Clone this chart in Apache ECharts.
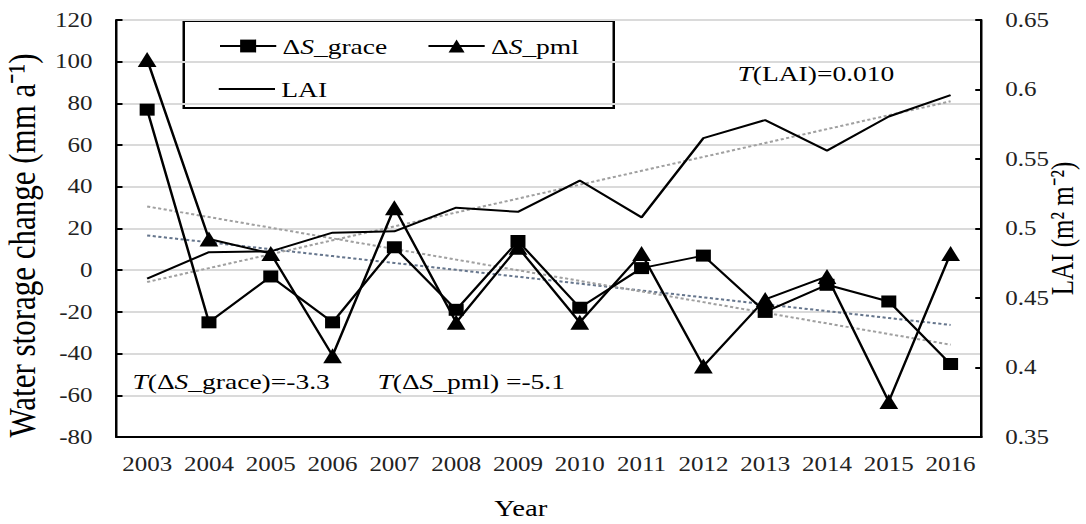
<!DOCTYPE html>
<html>
<head>
<meta charset="utf-8">
<script src="https://cdn.jsdelivr.net/npm/echarts@6/dist/echarts.min.js"></script>
<style>
  html, body { margin: 0; padding: 0; background: #fff; overflow: hidden; }
  /* the figure is laid out narrow and widened horizontally */
  #chart { width: 868.8px; height: 524px; transform: scaleX(1.25); transform-origin: 0 0; }
</style>
</head>
<body>
<div id="chart"></div>
<script>
const years = ['2003', '2004', '2005', '2006', '2007', '2008', '2009',
               '2010', '2011', '2012', '2013', '2014', '2015', '2016'];
// annual water storage change, mm a-1
const graceValues = [77, -25, -3, -25, 11, -19, 14, -18, 1, 7, -20, -7, -15, -45];
const pmlValues = [101, 15, 8, -41, 30, -25, 11, -25, 8, -46, -14, -3, -63, 8];
// leaf area index, m2 m-2
const laiValues = [0.464, 0.483, 0.4835, 0.497, 0.498, 0.515, 0.512,
                   0.5345, 0.508, 0.565, 0.578, 0.556, 0.5806, 0.596];
// linear trends per year
const graceSlope = -3.3;
const pmlSlope = -5.1;
const laiSlope = 0.010;

// straight trend line through the series mean with the given slope
function trendLine(values, slope) {
  const n = values.length;
  const mean = values.reduce((a, b) => a + b, 0) / n;
  const mid = (n - 1) / 2;
  return values.map((_, i) => +(mean + slope * (i - mid)).toFixed(4));
}

const FONT = "'Liberation Serif', 'Times New Roman', serif";
const rich = {
  n: { fontFamily: FONT, fontSize: 22, color: '#000' },
  i: { fontFamily: FONT, fontSize: 22, color: '#000', fontStyle: 'italic' }
};

const chart = echarts.init(document.getElementById('chart'), null, { renderer: 'svg' });

const legendText = { fontFamily: FONT, fontSize: 22, color: '#000', rich: rich };
const legendFormatter = name => name === 'LAI' ? '{n|LAI}'
  : '{n|Δ}{i|S}{n|' + name.slice(2) + '}';

chart.setOption({
  animation: false,
  backgroundColor: '#fff',
  grid: { left: 93, right: 83.8, top: 20, bottom: 87, outerBoundsMode: 'none' },
  legend: [
    {
      data: ['ΔS_grace', 'ΔS_pml'], left: 170, top: 30,
      itemWidth: 45, itemHeight: 16, itemGap: 32,
      textStyle: legendText, formatter: legendFormatter
    },
    {
      // plain line key for the LAI curve
      data: [{ name: 'LAI', icon: 'rect' }], left: 170, top: 73,
      itemWidth: 45, itemHeight: 2,
      itemStyle: { color: '#000' },
      textStyle: legendText, formatter: legendFormatter
    }
  ],
  graphic: [
    {
      type: 'rect', left: 146, top: 20, z: 0,
      shape: { width: 344, height: 87 },
      style: { fill: '#fff', stroke: '#000', lineWidth: 2 }
    },
    {
      type: 'text', left: 590, top: 62,
      style: { text: '{i|T}{n|(LAI)=0.010}', rich: rich }
    },
    {
      type: 'text', left: 106, top: 370,
      style: { text: '{i|T}{n|(Δ}{i|S}{n|_grace)=-3.3}', rich: rich }
    },
    {
      type: 'text', left: 302, top: 370,
      style: { text: '{i|T}{n|(Δ}{i|S}{n|_pml) =-5.1}', rich: rich }
    }
  ],
  xAxis: {
    type: 'category',
    data: years,
    boundaryGap: true,
    name: 'Year',
    nameLocation: 'middle',
    nameGap: 60,
    nameTextStyle: { fontFamily: FONT, fontSize: 23, color: '#000', padding: [0, 45, 0, 0] },
    axisLine: { onZero: false, lineStyle: { color: '#000', width: 2 } },
    axisTick: { inside: true, length: 5, lineStyle: { color: '#000', width: 2 } },
    axisLabel: { interval: 0, fontFamily: FONT, fontSize: 20, color: '#222', margin: 17 },
    splitLine: { show: false }
  },
  yAxis: [
    {
      type: 'value',
      min: -80, max: 120, interval: 20,
      name: 'Water storage change (mm a⁻¹)',
      nameLocation: 'middle',
      nameRotate: 90,
      nameGap: 57,
      nameTextStyle: { fontFamily: FONT, fontSize: 31, color: '#000', padding: [0, 34, 0, 0] },
      axisLine: { show: true, lineStyle: { color: '#000', width: 2 } },
      axisTick: { show: true, inside: true, length: 5, lineStyle: { color: '#000', width: 2 } },
      axisLabel: { fontFamily: FONT, fontSize: 20, color: '#222', margin: 19 },
      splitLine: { show: true, lineStyle: { color: '#dadada', width: 2 } }
    },
    {
      type: 'value',
      position: 'right',
      min: 0.35, max: 0.65, interval: 0.05,
      name: 'LAI (m² m⁻²)',
      nameLocation: 'middle',
      nameRotate: 90,
      nameGap: 52,
      nameMoveOverlap: false,
      nameTextStyle: { fontFamily: FONT, fontSize: 25, color: '#000' },
      axisLine: { show: true, lineStyle: { color: '#000', width: 2 } },
      axisTick: { show: true, inside: true, length: 5, lineStyle: { color: '#000', width: 2 } },
      axisLabel: { fontFamily: FONT, fontSize: 20, color: '#222', margin: 19 },
      splitLine: { show: false }
    }
  ],
  series: [
    {
      name: 'ΔS_grace trend', type: 'line', yAxisIndex: 0,
      data: trendLine(graceValues, graceSlope),
      symbol: 'none', silent: true, z: 1,
      lineStyle: { color: '#65758c', width: 2, type: [2.5, 2] }
    },
    {
      name: 'ΔS_pml trend', type: 'line', yAxisIndex: 0,
      data: trendLine(pmlValues, pmlSlope),
      symbol: 'none', silent: true, z: 1,
      lineStyle: { color: '#a0a0a0', width: 2, type: [2.5, 2] }
    },
    {
      name: 'LAI trend', type: 'line', yAxisIndex: 1,
      data: trendLine(laiValues, laiSlope),
      symbol: 'none', silent: true, z: 1,
      lineStyle: { color: '#a0a0a0', width: 2, type: [2.5, 2] }
    },
    {
      name: 'LAI', type: 'line', yAxisIndex: 1,
      data: laiValues,
      symbol: 'none', z: 2,
      lineStyle: { color: '#000', width: 2 },
      itemStyle: { color: '#000' }
    },
    {
      name: 'ΔS_grace', type: 'line', yAxisIndex: 0,
      data: graceValues,
      symbol: 'rect', symbolSize: 12, z: 3,
      lineStyle: { color: '#000', width: 2 },
      itemStyle: { color: '#000' }
    },
    {
      name: 'ΔS_pml', type: 'line', yAxisIndex: 0,
      data: pmlValues,
      symbol: 'triangle', symbolSize: 15, z: 3,
      lineStyle: { color: '#000', width: 2 },
      itemStyle: { color: '#000' }
    }
  ]
});
</script>
</body>
</html>
